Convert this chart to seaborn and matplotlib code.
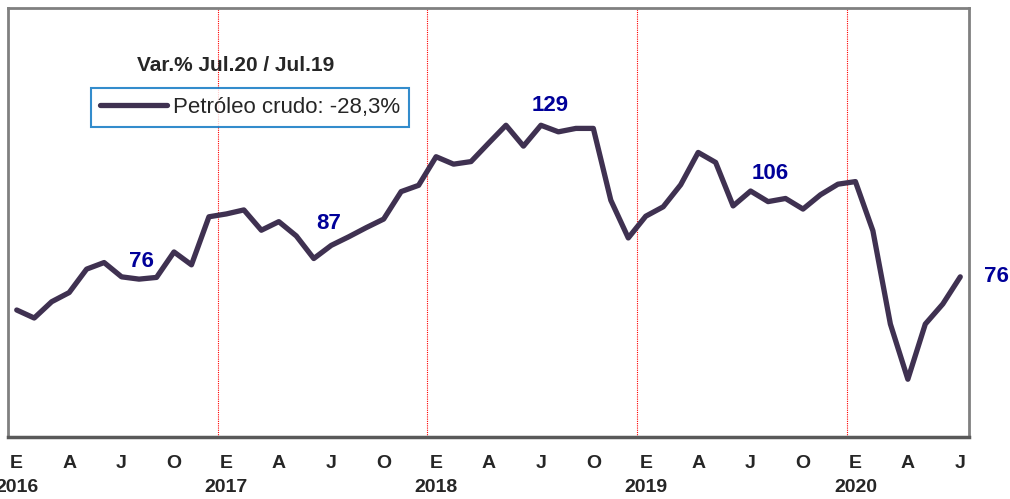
import numpy as np
import pandas as pd
import matplotlib
matplotlib.use('Agg')
import matplotlib.pyplot as plt
import seaborn as sns

# indice de precios del petroleo crudo, ene-2016 .. jul-2020
valores = [64.4, 61.6, 67.3, 70.5, 78.7, 81.0, 76.0, 75.2, 75.8, 84.7, 80.2, 97.0,
           98.0, 99.4, 92.3, 95.3, 90.3, 82.4, 87.0, 90.0, 93.2, 96.2, 105.8, 108.0,
           118.0, 115.4, 116.3, 122.7, 129.0, 121.7, 129.0, 126.7, 127.9, 127.9, 102.8, 89.6,
           97.2, 100.5, 108.2, 119.5, 116.0, 100.8, 106.0, 102.3, 103.4, 99.7, 104.7, 108.4,
           109.3, 92.1, 59.5, 40.2, 59.5, 66.5, 76.0]
anios = ['2016', '2017', '2018', '2019', '2020']
meses_tick = ['E', 'A', 'J', 'O']
etiquetas_mes = [6, 18, 30, 42, 54]
etiquetas_txt = ['76', '87', '129', '106', '76']
etiquetas_off = [(20, 15), (-3, 22), (9, 20), (20, 18), (36, 0)]

df = pd.DataFrame({'mes': np.arange(len(valores)), 'valor': valores})

sns.set_style('white')
plt.rcParams['font.family'] = ['Liberation Sans', 'DejaVu Sans']

fig = plt.figure(figsize=(10.1, 4.99), dpi=100)
ax = fig.add_axes([8 / 1010, 1 - 437 / 499, 961 / 1010, 429 / 499])

sns.lineplot(data=df, x='mes', y='valor', ax=ax, color='#3F3151', linewidth=3.8,
             label='Petróleo crudo: -28,3%')

for k in range(1, len(anios)):
    ax.axvline(12 * k - 0.5, color='#FF0000', linestyle=(0, (1, 1)), linewidth=0.8, zorder=0)

for m, txt, off in zip(etiquetas_mes, etiquetas_txt, etiquetas_off):
    ax.annotate(txt, xy=(m, valores[m]), xytext=off, textcoords='offset pixels',
                ha='center', va='center', fontsize=16, fontweight='bold',
                color='#000099', annotation_clip=False)

ticks, labels = [], []
for i, a in enumerate(anios):
    for j, mm in enumerate(meses_tick):
        pos = 12 * i + 3 * j
        if pos >= len(valores):
            break
        ticks.append(pos)
        labels.append(mm + '\n' + a if j == 0 else mm)
ax.set_xticks(ticks)
ax.set_xticklabels(labels, fontsize=14, fontweight='bold', linespacing=1.55, va='top')
ax.tick_params(axis='x', length=0, pad=13)
ax.set_yticks([])
ax.set_xlim(-0.5, 54.5)
ax.set_ylim(20, 170)
ax.set_xlabel('')
ax.set_ylabel('')

for s in ['top', 'right', 'left']:
    ax.spines[s].set_color('#808080')
    ax.spines[s].set_linewidth(2)
ax.spines['bottom'].set_color('#595959')
ax.spines['bottom'].set_linewidth(2.5)

ax.text(0.237, 0.867, 'Var.% Jul.20 / Jul.19', transform=ax.transAxes, ha='center',
        va='center', fontsize=15, fontweight='bold')

leg = ax.legend(loc='upper left', bbox_to_anchor=(0.0864, 0.8135), borderaxespad=0,
                fontsize=16, frameon=True, fancybox=False, handlelength=3.0,
                handletextpad=0.3, borderpad=0.4)
leg.get_frame().set_edgecolor('#0070C0')
leg.get_frame().set_linewidth(1.5)

fig.savefig('out.png', dpi=100)
